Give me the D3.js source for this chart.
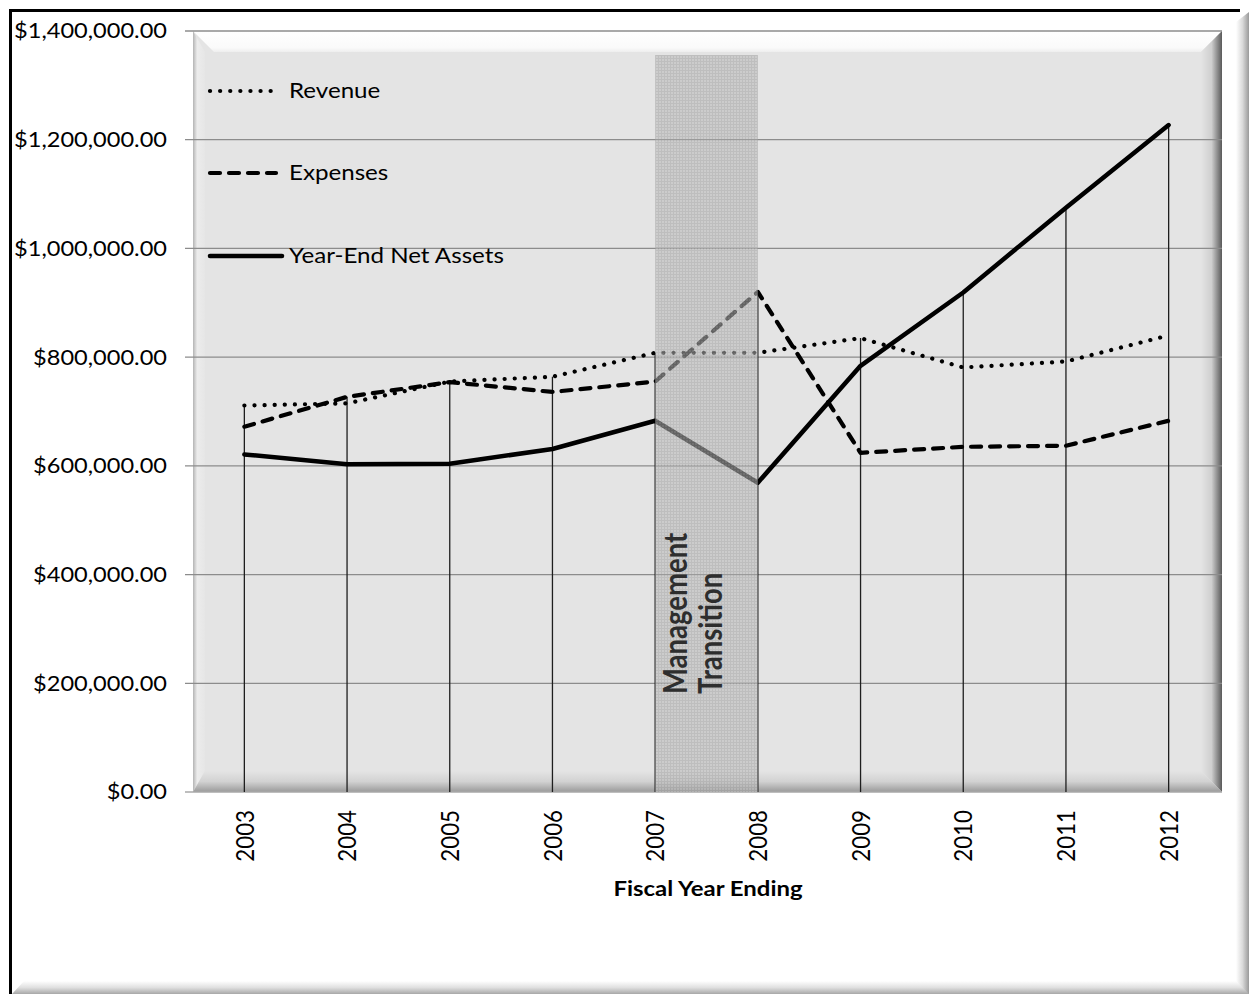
<!DOCTYPE html>
<html>
<head>
<meta charset="utf-8">
<script src="https://cdn.jsdelivr.net/npm/d3@7"></script>
<style>
  html, body { margin: 0; padding: 0; background: #ffffff; }
  svg { display: block; }
  text { font-family: Lato, "Open Sans", "DejaVu Sans", sans-serif; }
</style>
</head>
<body>
<svg id="chart" width="1249" height="994"></svg>
<script>
// ---------------- data ----------------
const years = ["2003", "2004", "2005", "2006", "2007", "2008", "2009", "2010", "2011", "2012"];
const revenue   = [711000, 715000, 755000, 764000, 808000, 808000, 835000, 781000, 792000, 840000];
const expenses  = [672000, 727000, 754000, 736000, 755000, 920000, 624000, 635000, 637000, 683000];
const netAssets = [621000, 603000, 604000, 631000, 683000, 569000, 784000, 919000, 1075000, 1227000];
const yTicks = [0, 200000, 400000, 600000, 800000, 1000000, 1200000, 1400000];
const seriesNames = ["Revenue", "Expenses", "Year-End Net Assets"];
const transitionYears = ["2007", "2008"];
const transitionLabel = ["Management", "Transition"];
const xTitle = "Fiscal Year Ending";

// ---------------- layout ----------------
const W = 1249, H = 994;
const plot = { left: 193, right: 1222, top: 31, bottom: 792 };
const SX = 1.15; // horizontal text stretch seen in the reference
const svg = d3.select("#chart");
const defs = svg.append("defs");

const x = d3.scaleBand().domain(years).range([plot.left, plot.right - 2]);
const cx = d => x(d) + x.bandwidth() / 2;
const y = d3.scaleLinear().domain([0, 1400000]).range([plot.bottom, plot.top]);

function lin(id, x1, y1, x2, y2, stops) {
  const g = defs.append("linearGradient").attr("id", id)
    .attr("x1", x1).attr("y1", y1).attr("x2", x2).attr("y2", y2);
  stops.forEach(s => g.append("stop").attr("offset", s[0]).attr("stop-color", s[1]));
}
lin("gTop", 0, 0, 0, 1, [[0, "#ffffff"], [0.8, "#fafafa"], [1, "#eeeeee"]]);
lin("gLeft", 0, 0, 1, 0, [[0, "#b4b4b4"], [0.35, "#ececec"], [1, "#e6e6e6"]]);
lin("gRight", 0, 0, 1, 0, [[0, "#e4e4e4"], [0.5, "#cfcfcf"], [1, "#5a5a5a"]]);
lin("gBottom", 0, 0, 0, 1, [[0, "#e4e4e4"], [0.5, "#d2d2d2"], [1, "#9a9a9a"]]);
lin("gORight", 0, 0, 1, 0, [[0, "#ffffff"], [0.5, "#dadada"], [1, "#9a9a9a"]]);
lin("gOBottom", 0, 0, 0, 1, [[0, "#ffffff"], [0.5, "#e0e0e0"], [1, "#a8a8a8"]]);

const pat = defs.append("pattern").attr("id", "dither")
  .attr("patternUnits", "userSpaceOnUse").attr("width", 3).attr("height", 3);
pat.append("rect").attr("width", 3).attr("height", 3).attr("fill", "#bcbcbc");
pat.append("rect").attr("x", 1).attr("y", 0).attr("width", 1).attr("height", 3).attr("fill", "#a4a4a4");
pat.append("rect").attr("x", 0).attr("y", 1).attr("width", 3).attr("height", 1).attr("fill", "#a4a4a4");

// ---------------- outer chart frame ----------------
svg.append("rect").attr("x", 0).attr("y", 0).attr("width", W).attr("height", H).attr("fill", "#ffffff");
svg.append("polygon").attr("points", "1236,22 1249,12 1249,994 1236,994").attr("fill", "url(#gORight)");
svg.append("polygon").attr("points", "12,994 24,981 1236,981 1249,994").attr("fill", "url(#gOBottom)");
svg.append("rect").attr("x", 9).attr("y", 9).attr("width", 1231).attr("height", 3).attr("fill", "#000");
svg.append("rect").attr("x", 9).attr("y", 9).attr("width", 3).attr("height", 985).attr("fill", "#000");

// ---------------- plot area bevel ----------------
const b = 21;
const P = plot;
svg.append("rect").attr("x", P.left).attr("y", P.top)
  .attr("width", P.right - P.left).attr("height", P.bottom - P.top).attr("fill", "#e4e4e4");
svg.append("polygon").attr("points",
  `${P.left},${P.top} ${P.right},${P.top} ${P.right - b},${P.top + b} ${P.left + b},${P.top + b}`)
  .attr("fill", "url(#gTop)");
svg.append("polygon").attr("points",
  `${P.left},${P.top} ${P.left + 12},${P.top + b} ${P.left + 12},${P.bottom - b} ${P.left},${P.bottom}`)
  .attr("fill", "url(#gLeft)");
svg.append("polygon").attr("points",
  `${P.right},${P.top} ${P.right},${P.bottom} ${P.right - b},${P.bottom - b} ${P.right - b},${P.top + b}`)
  .attr("fill", "url(#gRight)");
svg.append("polygon").attr("points",
  `${P.left},${P.bottom} ${P.right},${P.bottom} ${P.right - b},${P.bottom - b} ${P.left + 12},${P.bottom - b}`)
  .attr("fill", "url(#gBottom)");

// ---------------- gridlines + y labels ----------------
svg.append("g").selectAll("line").data(yTicks).join("line")
  .attr("x1", 185).attr("x2", P.right)
  .attr("y1", d => y(d)).attr("y2", d => y(d))
  .attr("stroke", d => d === 0 ? "#a8a8a8" : "#8c8c8c").attr("stroke-width", 1.3);

const fmt = d3.format("$,.2f");
svg.append("g").selectAll("text").data(yTicks).join("text")
  .attr("transform", d => `translate(167,${y(d)}) scale(${SX},1)`)
  .attr("text-anchor", "end").attr("dy", "0.36em")
  .attr("font-size", 20.5).attr("fill", "#000")
  .text(d => fmt(d));

// ---------------- drop lines ----------------
svg.append("g").selectAll("line").data(years).join("line")
  .attr("x1", d => cx(d)).attr("x2", d => cx(d))
  .attr("y1", (d, i) => y(Math.max(revenue[i], expenses[i], netAssets[i])))
  .attr("y2", y(0))
  .attr("stroke", "#1e1e1e").attr("stroke-width", 1.3);

// ---------------- series ----------------
const lineGen = vals => d3.line().x((d, i) => cx(years[i])).y(d => y(d))(vals);
const styles = [
  { vals: revenue, dash: "0.1,10", width: 4.2, cap: "round" },
  { vals: expenses, dash: "10,9", width: 4.2, cap: "round" },
  { vals: netAssets, dash: null, width: 4.5, cap: "round" }
];
styles.forEach(s => {
  svg.append("path").attr("d", lineGen(s.vals))
    .attr("fill", "none").attr("stroke", "#000")
    .attr("stroke-width", s.width).attr("stroke-linecap", s.cap).attr("stroke-linejoin", "round")
    .attr("stroke-dasharray", s.dash);
});

// ---------------- management transition band ----------------
const bandX0 = cx(transitionYears[0]), bandX1 = cx(transitionYears[1]);
svg.append("rect").attr("x", bandX0).attr("y", 55)
  .attr("width", bandX1 - bandX0).attr("height", y(0) - 55)
  .attr("fill", "url(#dither)").attr("opacity", 0.6);
svg.append("text").attr("transform", `translate(687,694) scale(${SX},1) rotate(-90)`)
  .attr("font-size", 27.5).attr("font-weight", "bold").attr("fill", "#2e2e2e")
  .text(transitionLabel[0]);
svg.append("text").attr("transform", `translate(722,694) scale(${SX},1) rotate(-90)`)
  .attr("font-size", 27.5).attr("font-weight", "bold").attr("fill", "#2e2e2e")
  .text(transitionLabel[1]);

// ---------------- legend ----------------
const legendY = [91, 173, 256];
styles.forEach((s, i) => {
  svg.append("line").attr("x1", 210).attr("x2", i === 0 ? 276 : (i === 1 ? 276 : 282))
    .attr("y1", legendY[i]).attr("y2", legendY[i])
    .attr("stroke", "#000").attr("stroke-width", s.width)
    .attr("stroke-linecap", s.cap).attr("stroke-dasharray", s.dash);
  svg.append("text").attr("transform", `translate(289,${legendY[i] + 7}) scale(${SX},1)`)
    .attr("font-size", 21).attr("fill", "#000").text(seriesNames[i]);
});

// ---------------- x labels + title ----------------
svg.append("g").selectAll("text").data(years).join("text")
  .attr("transform", d => `translate(${cx(d)},810) scale(${SX},1) rotate(-90)`)
  .attr("text-anchor", "end").attr("dy", "0.36em")
  .attr("font-size", 22.3).attr("fill", "#000")
  .text(d => d);

svg.append("text").attr("transform", `translate(708,896) scale(${SX},1)`)
  .attr("text-anchor", "middle").attr("font-size", 20.8).attr("font-weight", "bold")
  .attr("fill", "#000").text(xTitle);
</script>
</body>
</html>
